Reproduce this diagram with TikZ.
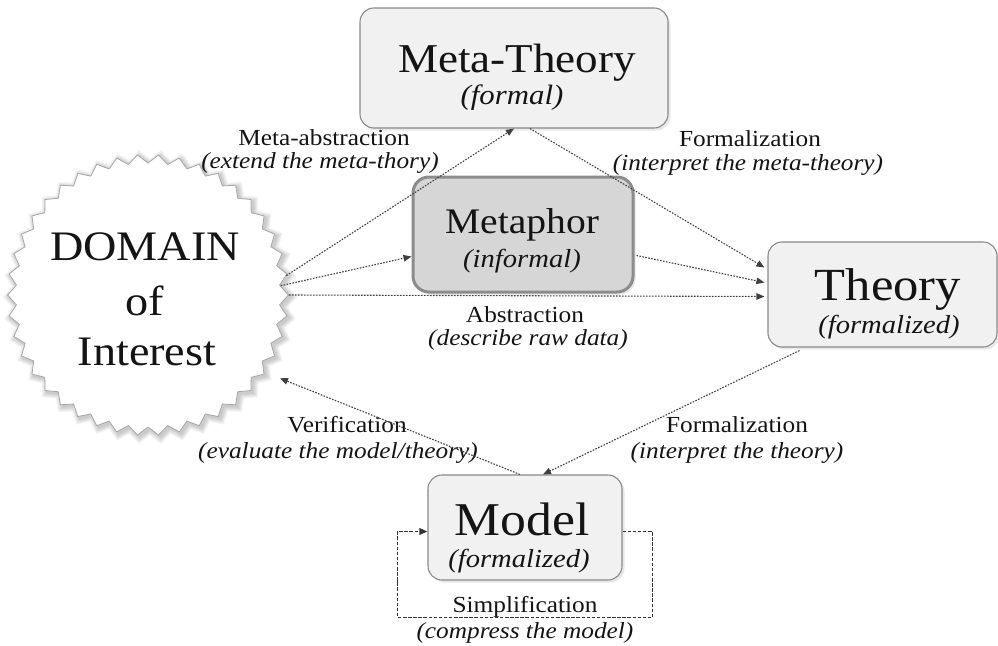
\documentclass[tikz,border=0pt]{standalone}
\usepackage{fontspec}
\setmainfont[FakeStretch=1.1]{Liberation Serif}
\usetikzlibrary{arrows.meta,calc,shapes.geometric,shadows}
\definecolor{boxfill}{HTML}{F1F1F1}
\definecolor{boxline}{HTML}{8A8A8A}
\definecolor{mphfill}{HTML}{D6D6D6}
\definecolor{mphline}{HTML}{8C8C8C}
\definecolor{arrowc}{HTML}{404040}
\definecolor{txt}{HTML}{141414}
\tikzset{
  boxnode/.style={draw=boxline, line width=1.1pt, fill=boxfill, rounded corners=14pt, inner sep=0pt,
    drop shadow={shadow xshift=2.5pt, shadow yshift=-2.5pt, opacity=0.18}},
  mphnode/.style={draw=mphline, line width=3pt, fill=mphfill, rounded corners=16pt, inner sep=0pt,
    drop shadow={shadow xshift=2.5pt, shadow yshift=-2.5pt, opacity=0.2}},
  startxt/.style={star, star points=42, star point ratio=0.94, minimum size=264pt, inner sep=0pt},
  bigtxt/.style={anchor=base, inner sep=0pt, text=txt, font=\fontsize{#1}{#1}\selectfont},
  ittxt/.style={anchor=base, inner sep=0pt, text=txt, font=\fontsize{#1}{#1}\selectfont\itshape},
  lbl/.style={anchor=base, inner sep=0pt, text=txt, font=\fontsize{23}{23}\selectfont},
  lblit/.style={anchor=base, inner sep=0pt, text=txt, font=\fontsize{23}{23}\selectfont\itshape},
  flow/.style={draw=arrowc, line width=1.1pt, dash pattern=on 1.6pt off 1.4pt,
    -{Triangle[length=8pt,width=6.5pt]}},
  loopline/.style={draw=black!80, line width=1.7pt, dash pattern=on 3.5pt off 1.6pt,
    -{Triangle[length=8pt,width=6.5pt]}}
}
\begin{document}
\begin{tikzpicture}[x=1pt,y=-1pt]
\useasboundingbox (0,0) rectangle (998,645);
\fill[white] (0,0) rectangle (998,645);

% starburst halo
\foreach \i in {1,...,6}{
  \node[startxt, fill=black, opacity=0.035, minimum size={264pt+2.2*\i pt}] (halo\i) at (150,297) {};
}
\node[startxt, draw=gray!70, line width=0.8pt, fill=white] (dom) at (148,295) {};
\node[bigtxt=42] (tdom) at (145,260) {DOMAIN};
\node[bigtxt=42] (tof) at (145,315) {of};
\node[bigtxt=42] (tint) at (147,365) {Interest};

% boxes
\node[boxnode, minimum width=308pt, minimum height=120pt] (mt) at (514,68) {};
\node[bigtxt=41] (tmt) at (517,72) {Meta-Theory};
\node[ittxt=28] (tmtf) at (512,104) {(formal)};

\node[mphnode, minimum width=220pt, minimum height=115pt] (mph) at (523,234.5) {};
\node[bigtxt=36] (tmph) at (522,233) {Metaphor};
\node[ittxt=26] (tmphi) at (522,267) {(informal)};

\node[boxnode, minimum width=229pt, minimum height=105pt] (th) at (882.5,294.5) {};
\node[bigtxt=46] (tth) at (888,300) {Theory};
\node[ittxt=26] (tthf) at (889,333) {(formalized)};

\node[boxnode, minimum width=194pt, minimum height=105pt] (md) at (525,527.5) {};
\node[bigtxt=47] (tmd) at (522,535) {Model};
\node[ittxt=26] (tmdf) at (519,567) {(formalized)};

% labels
\node[lbl] (l1a) at (324,145) {Meta-abstraction};
\node[lblit] (l1b) at (320,168) {(extend the meta-thory)};
\node[lbl] (l2a) at (750,146) {Formalization};
\node[lblit] (l2b) at (748,170) {(interpret the meta-theory)};
\node[lbl] (l3a) at (525,322) {Abstraction};
\node[lblit] (l3b) at (528,345) {(describe raw data)};
\node[lbl] (l4a) at (347,432) {Verification};
\node[lblit] (l4b) at (338,458) {(evaluate the model/theory)};
\node[lbl] (l5a) at (737,432) {Formalization};
\node[lblit] (l5b) at (737,458) {(interpret the theory)};
\node[lbl] (l6a) at (525,612) {Simplification};
\node[lblit] (l6b) at (525,638) {(compress the model)};

% connectors
\draw[flow] (dom.8) -- (mt.south);
\draw[flow] (dom.4) -- ($(mph.west)+(0,22)$);
\draw[flow] (dom.0) -- ($(th.west)+(-3,2)$);
\draw[flow] ($(mt.south)+(16,0)$) -- ($(th.west)+(-3,-27)$);
\draw[flow] ($(mph.east)+(2,21)$) -- ($(th.west)+(-3,-12)$);
\draw[flow] ($(th.south west)+(32,3)$) -- ($(md.north)+(18,0)$);
\draw[flow] ($(md.north)+(-5,0)$) -- ($(dom.-33)+(16,8)$);
\draw[loopline] ($(md.east)+(0,4)$) -| ($(md.south east)+(30,37)$) -| ($(md.south west)+(-30,0)$) |- ($(md.west)+(0,4)$);
\end{tikzpicture}
\end{document}
